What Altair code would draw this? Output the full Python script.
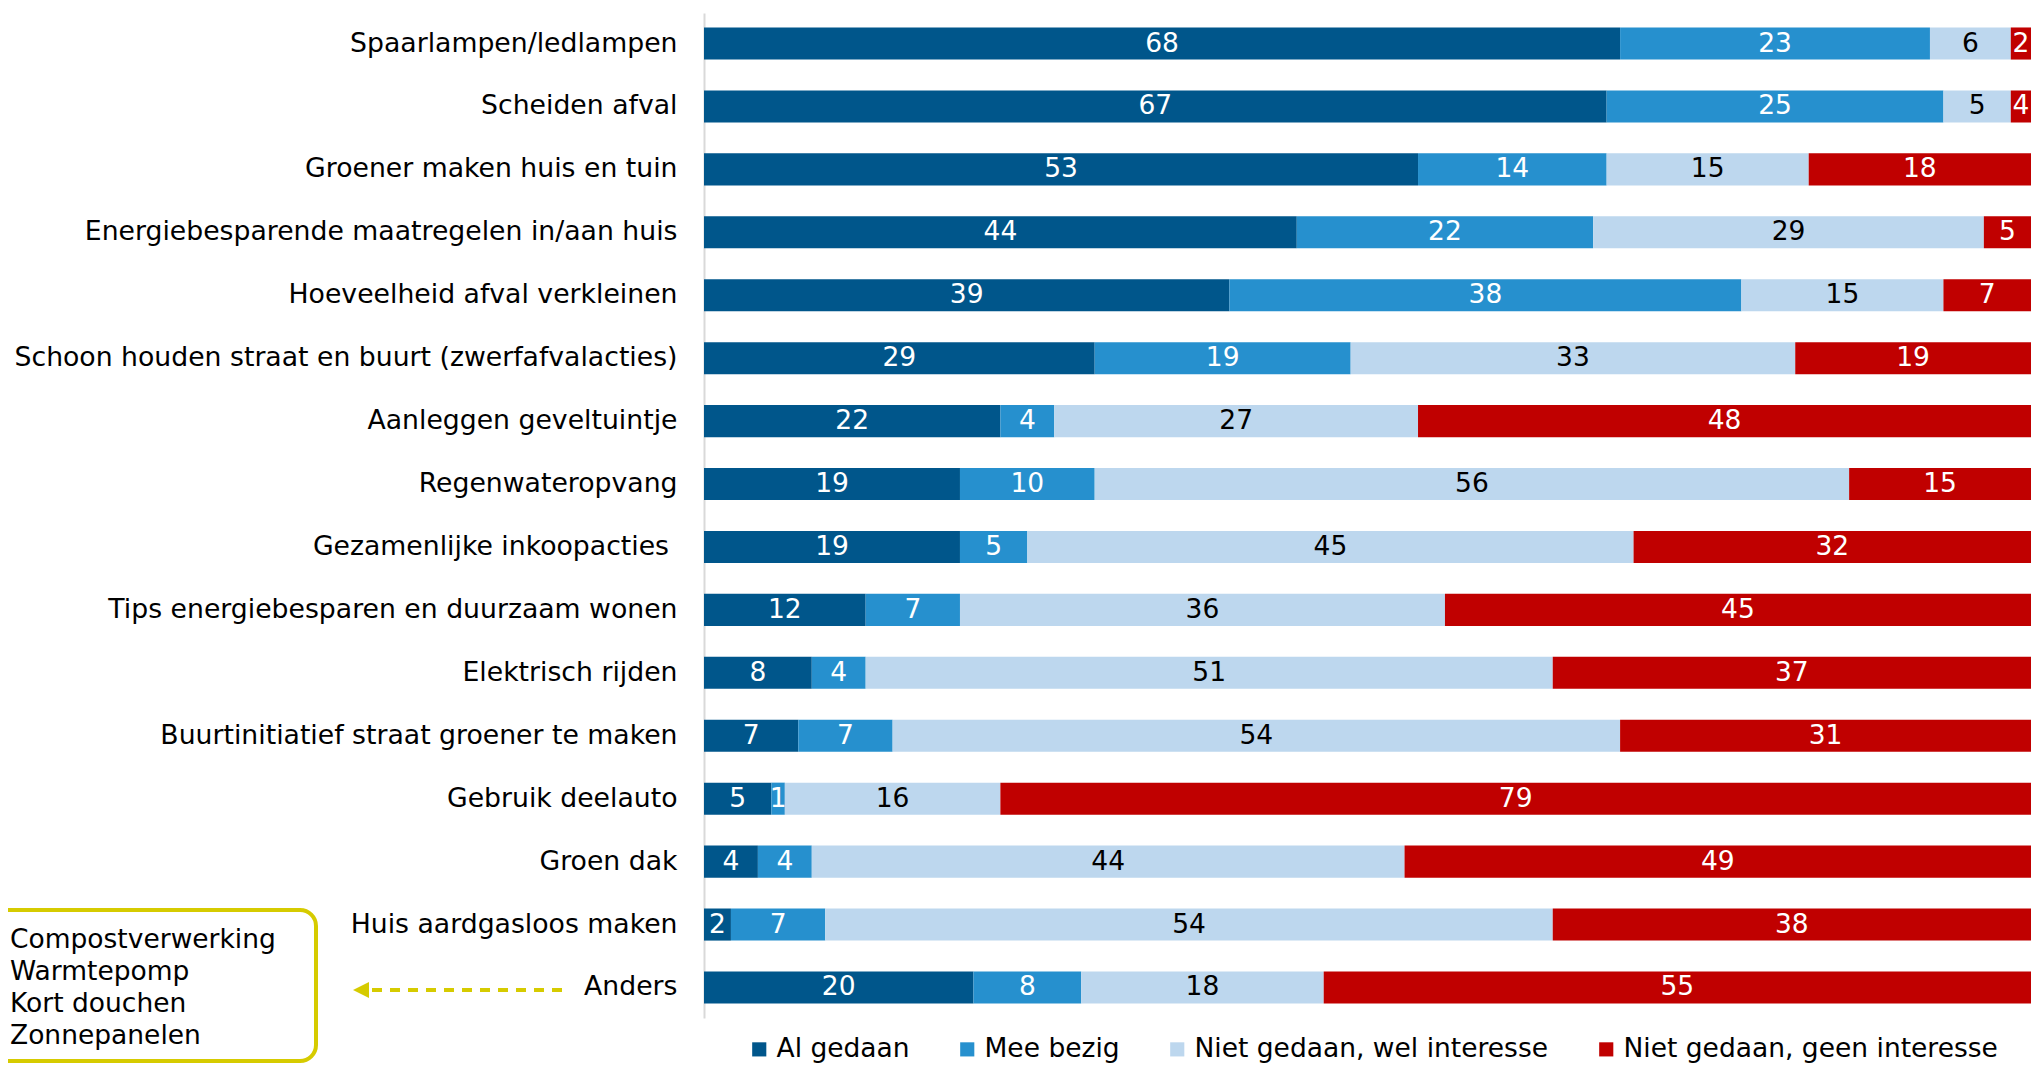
import altair as alt
import pandas as pd

items = [
    "Spaarlampen/ledlampen",
    "Scheiden afval",
    "Groener maken huis en tuin",
    "Energiebesparende maatregelen in/aan huis",
    "Hoeveelheid afval verkleinen",
    "Schoon houden straat en buurt (zwerfafvalacties)",
    "Aanleggen geveltuintje",
    "Regenwateropvang",
    "Gezamenlijke inkoopacties\u00a0\u200b",
    "Tips energiebesparen en duurzaam wonen",
    "Elektrisch rijden",
    "Buurtinitiatief straat groener te maken",
    "Gebruik deelauto",
    "Groen dak",
    "Huis aardgasloos maken",
    "Anders",
]
al_gedaan = [68, 67, 53, 44, 39, 29, 22, 19, 19, 12, 8, 7, 5, 4, 2, 20]
mee_bezig = [23, 25, 14, 22, 38, 19, 4, 10, 5, 7, 4, 7, 1, 4, 7, 8]
wel_interesse = [6, 5, 15, 29, 15, 33, 27, 56, 45, 36, 51, 54, 16, 44, 54, 18]
geen_interesse = [2, 4, 18, 5, 7, 19, 48, 15, 32, 45, 37, 31, 79, 49, 38, 55]

categories = ["Al gedaan", "Mee bezig", "Niet gedaan, wel interesse", "Niet gedaan, geen interesse"]
colors = ["#00568B", "#2690CE", "#BDD7EE", "#C00000"]
label_colors = ["white", "white", "black", "white"]
annotation_lines = ["Compostverwerking", "Warmtepomp", "Kort douchen", "Zonnepanelen"]

FONT = "DejaVu Sans"
YELLOW = "#D6CB00"
XMAX = 98.5

series = [al_gedaan, mee_bezig, wel_interesse, geen_interesse]
rows = []
for i, item in enumerate(items):
    for j, cat in enumerate(categories):
        rows.append({"item": item, "cat": cat, "order": j,
                     "value": series[j][i], "label_color": label_colors[j]})
df = pd.DataFrame(rows)

base = alt.Chart(df).transform_stack(
    stack="value", groupby=["item"],
    sort=[alt.SortField("order", order="ascending")],
    as_=["x0", "x1"],
)

xscale = alt.Scale(domain=[0, XMAX], nice=False, zero=False)
yenc = alt.Y(
    "item:N", sort=items, title=None,
    scale=alt.Scale(paddingInner=0.49, paddingOuter=0.23),
    axis=alt.Axis(labelFont=FONT, labelFontSize=26.7, labelColor="black",
                  labelPadding=27, labelLimit=900, ticks=False,
                  domain=True, domainColor="#D9D9D9", domainWidth=2, grid=False),
)

bars = base.mark_bar(clip=True).encode(
    x=alt.X("x0:Q", scale=xscale, axis=None),
    x2="x1:Q",
    y=yenc,
    color=alt.Color(
        "cat:N",
        scale=alt.Scale(domain=categories, range=colors),
        legend=alt.Legend(
            title=None, orient="none", direction="horizontal",
            legendX=42, legendY=1023, padding=0,
            symbolType="square", symbolSize=200, symbolStrokeWidth=0,
            symbolOpacity=1,
            labelFont=FONT, labelFontSize=26.5, labelColor="black",
            labelOffset=4, columnPadding=44, labelLimit=800,
        ),
    ),
)

labels = base.transform_calculate(
    mid=f"(datum.x0 + min(datum.x1, {XMAX})) / 2"
).mark_text(font=FONT, fontSize=26.5, clip=True, baseline="middle").encode(
    x=alt.X("mid:Q", scale=xscale, axis=None),
    y=alt.Y("item:N", sort=items),
    text="value:Q",
    color=alt.Color("label_color:N", scale=None, legend=None),
)

one = alt.Data(values=[{"k": 1}])

box = alt.Chart(one).mark_rect(
    cornerRadius=16, fill="white", stroke=YELLOW, strokeWidth=4, clip=False
).encode(
    x=alt.value(-730), x2=alt.value(-388),
    y=alt.value(897), y2=alt.value(1048),
)

box_text = alt.Chart(one).mark_text(
    align="left", baseline="middle", font=FONT, fontSize=26.5,
    lineHeight=32, color="black", clip=False
).encode(
    x=alt.value(-694), y=alt.value(927), text=alt.value(annotation_lines),
)

arrow_line = alt.Chart(one).mark_rule(
    strokeDash=[10, 8], strokeWidth=4, color=YELLOW, clip=False
).encode(
    x=alt.value(-142), x2=alt.value(-337), y=alt.value(977),
)

arrow_head = alt.Chart(one).mark_point(
    shape="M-1,0L1,-1L1,1Z", filled=True, size=256, color=YELLOW,
    opacity=1, clip=False
).encode(
    x=alt.value(-343), y=alt.value(977),
)

chart = alt.layer(bars, labels, box, box_text, arrow_line, arrow_head).properties(
    width=1327, height=1005,
    autosize=alt.AutoSizeParams(type="none"),
    padding={"left": 696, "top": 5, "right": 0, "bottom": 46},
    background="white",
).configure_view(stroke=None)

chart.save("out.html", embed_options={"renderer": "svg", "actions": False})
